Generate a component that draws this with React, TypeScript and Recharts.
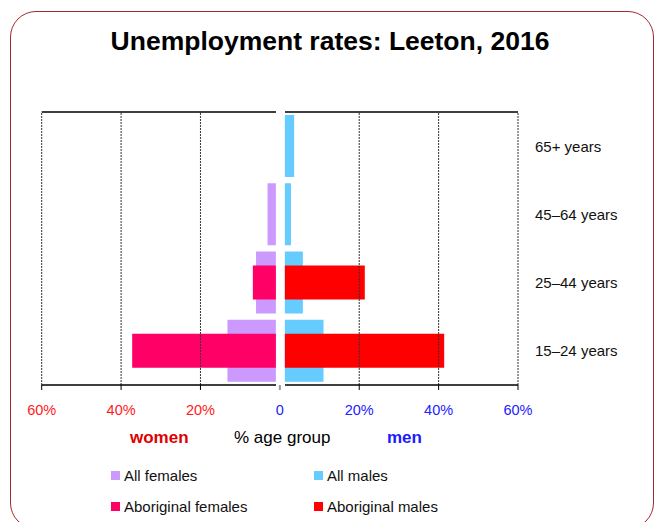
import {
  Bar,
  BarChart,
  Legend,
  ReferenceLine,
  XAxis,
  YAxis,
} from "recharts";

const ageGroups = ["65+ years", "45–64 years", "25–44 years", "15–24 years"];

// % of age group unemployed
const allFemales = [0, 3.1, 6.0, 13.2];
const aboriginalFemales = [0, 0, 6.8, 37.2];
const allMales = [3.6, 2.8, 5.8, 11.0];
const aboriginalMales = [0, 0, 21.4, 41.4];

const xTicks = [-60, -40, -20, 0, 20, 40, 60];
const gridAt = [-60, -40, -20, 20, 40, 60];

const series = [
  { key: "allFemales", name: "All females", color: "#CC99FF" },
  { key: "allMales", name: "All males", color: "#66CCFF" },
  { key: "aboFemales", name: "Aboriginal females", color: "#FF0066" },
  { key: "aboMales", name: "Aboriginal males", color: "#FF0000" },
];

// women go to the left, so their values are negated
const rows = ageGroups.map((age, i) => ({
  age,
  allFemales: -allFemales[i],
  allMales: allMales[i],
  aboFemales: -aboriginalFemales[i],
  aboMales: aboriginalMales[i],
}));

const FONT = "'Liberation Sans', Arial, sans-serif";

/** Bars leave a small gap either side of the zero line. */
function TrimmedBar(props: any) {
  const { x, y, width, height, fill, side } = props;
  let lo = Math.min(x, x + width);
  let hi = Math.max(x, x + width);
  if (side === "left") hi -= 4;
  else lo += 5;
  if (hi - lo <= 0) return null;
  return <rect x={lo} y={y} width={hi - lo} height={height} fill={fill} />;
}

function PercentTick({ x, y, payload }: any) {
  const v = payload.value as number;
  const label = v === 0 ? "0" : `${Math.abs(v)}%`;
  return (
    <g>
      <line
        x1={x}
        x2={x}
        y1={y - 5}
        y2={y}
        stroke={v === 0 ? "#999" : "#000"}
        strokeWidth={v === 0 ? 2 : 1}
      />
      <text
        x={x}
        y={y + 25}
        textAnchor="middle"
        fontSize={14.5}
        fontFamily={FONT}
        fill={v < 0 ? "#FF1A1A" : "#2222FF"}
      >
        {label}
      </text>
    </g>
  );
}

function AgeTick({ x, y, payload }: any) {
  return (
    <text
      x={x + 9}
      y={y}
      dominantBaseline="central"
      textAnchor="start"
      fontSize={15}
      fontFamily={FONT}
      fill="#111"
    >
      {payload.value}
    </text>
  );
}

function LegendGrid() {
  return (
    <div
      style={{
        display: "grid",
        gridTemplateColumns: "203px 200px",
        rowGap: 12,
        fontFamily: FONT,
        fontSize: 15,
        color: "#111",
      }}
    >
      {series.map((s) => (
        <div key={s.key} style={{ display: "flex", alignItems: "center", height: 19 }}>
          <span
            style={{
              display: "inline-block",
              width: 9,
              height: 9,
              background: s.color,
              marginRight: 4,
            }}
          />
          {s.name}
        </div>
      ))}
    </div>
  );
}

const axisGap = { stroke: "#000", strokeWidth: 1.3, strokeDasharray: "234.3 9 300" };

export default function App() {
  return (
    <div
      style={{
        position: "absolute",
        left: 0,
        top: 0,
        width: 660,
        height: 522,
        overflow: "hidden",
        background: "#fff",
        fontFamily: FONT,
      }}
    >
      <div
        style={{
          position: "absolute",
          left: 10,
          top: 11,
          width: 644,
          height: 518,
          boxSizing: "border-box",
          border: "1.5px solid #A3292C",
          borderRadius: 26,
        }}
      />
      <div
        style={{
          position: "absolute",
          left: 0,
          width: 660,
          top: 26,
          textAlign: "center",
          fontWeight: "bold",
          fontSize: 26.5,
          color: "#000",
        }}
      >
        Unemployment rates: Leeton, 2016
      </div>

      <div style={{ position: "absolute", left: 0, top: 0 }}>
        <BarChart
          width={660}
          height={522}
          data={rows}
          layout="vertical"
          stackOffset="sign"
          margin={{ top: 102, right: 12, bottom: 77, left: 41.7 }}
        >
          <XAxis
            xAxisId="top"
            orientation="top"
            type="number"
            domain={[-60, 60]}
            height={10}
            tick={false}
            tickLine={false}
            axisLine={axisGap}
          />
          <XAxis
            type="number"
            domain={[-60, 60]}
            ticks={xTicks}
            height={60}
            tickSize={5}
            tickMargin={0}
            tickLine={false}
            axisLine={axisGap}
            tick={<PercentTick />}
            interval={0}
          />
          <YAxis
            yAxisId="all"
            type="category"
            dataKey="age"
            orientation="right"
            width={130}
            axisLine={false}
            tickLine={false}
            tickSize={6}
            tickMargin={2}
            tick={<AgeTick />}
          />
          <YAxis yAxisId="abo" type="category" dataKey="age" hide />
          {gridAt.map((v) => (
            <ReferenceLine
              key={v}
              x={v}
              yAxisId="all"
              stroke="#333"
              strokeDasharray="2 1"
            />
          ))}
          <Bar
            yAxisId="all"
            stackId="all"
            dataKey="allFemales"
            name="All females"
            fill="#CC99FF"
            barSize={62}
            isAnimationActive={false}
            shape={(p: any) => <TrimmedBar {...p} side="left" />}
          />
          <Bar
            yAxisId="all"
            stackId="all"
            dataKey="allMales"
            name="All males"
            fill="#66CCFF"
            barSize={62}
            isAnimationActive={false}
            shape={(p: any) => <TrimmedBar {...p} side="right" />}
          />
          <Bar
            yAxisId="abo"
            stackId="abo"
            dataKey="aboFemales"
            name="Aboriginal females"
            fill="#FF0066"
            barSize={34}
            isAnimationActive={false}
            shape={(p: any) => <TrimmedBar {...p} side="left" />}
          />
          <Bar
            yAxisId="abo"
            stackId="abo"
            dataKey="aboMales"
            name="Aboriginal males"
            fill="#FF0000"
            barSize={34}
            isAnimationActive={false}
            shape={(p: any) => <TrimmedBar {...p} side="right" />}
          />
          <Legend
            layout="horizontal"
            verticalAlign="middle"
            align="center"
            content={() => <LegendGrid />}
            wrapperStyle={{ position: "absolute", left: 111, top: 466, width: 420 }}
          />
        </BarChart>
      </div>

      <div
        style={{
          position: "absolute",
          top: 427,
          left: 0,
          width: 660,
          height: 22,
          fontSize: 17,
          lineHeight: "22px",
        }}
      >
        <span style={{ position: "absolute", left: 130, color: "#E00000", fontWeight: "bold" }}>
          women
        </span>
        <span style={{ position: "absolute", left: 234, color: "#000" }}>% age group</span>
        <span style={{ position: "absolute", left: 387, color: "#1A1AFF", fontWeight: "bold" }}>
          men
        </span>
      </div>
    </div>
  );
}
